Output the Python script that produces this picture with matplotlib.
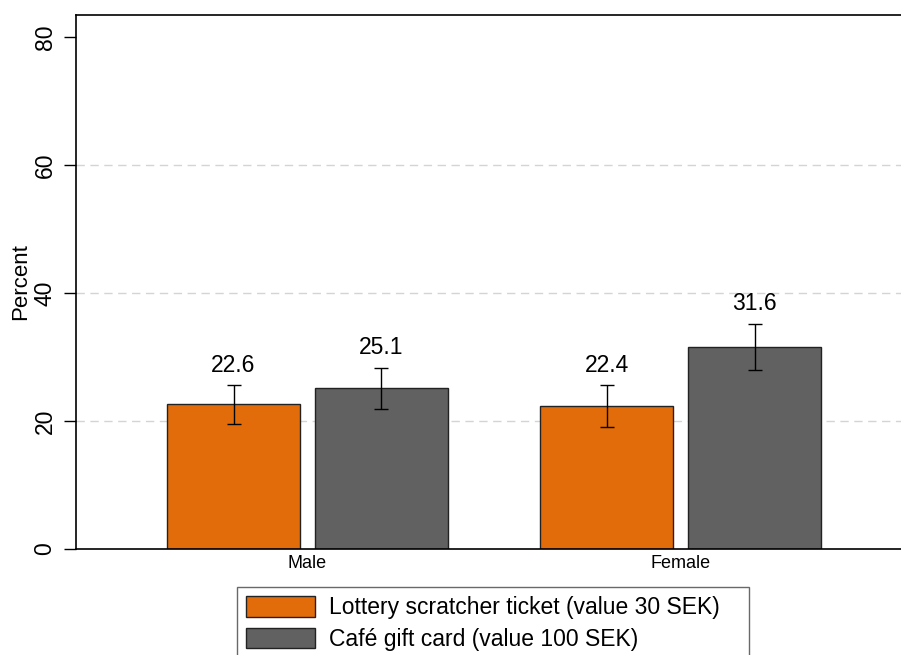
import numpy as np
import matplotlib
matplotlib.use("Agg")
from matplotlib import pyplot as plt

plt.rcParams['font.family'] = ['Liberation Sans', 'DejaVu Sans']

groups = ['Male', 'Female']
series = ['Lottery scratcher ticket (value 30 SEK)', 'Café gift card (value 100 SEK)']
lottery = [22.6, 22.4]
cafe = [25.1, 31.6]
lottery_lo = [19.5, 19.1]
lottery_hi = [25.6, 25.6]
cafe_lo = [21.8, 27.9]
cafe_hi = [28.3, 35.2]
yticks = [0, 20, 40, 60, 80]
gridlines = [20, 40, 60]

colors = ['#e36c0a', '#616161']

fig = plt.figure(figsize=(9.01, 6.55), dpi=100)
ax = fig.add_axes([76/901, 1 - 549/655, 1 - 76/901, (549 - 15)/655])

x = np.arange(len(groups))
w = 0.3566
off = 0.1983

for yy in gridlines:
    ax.axhline(yy, color='#d4d4d4', lw=1, ls=(0, (6, 4)), zorder=0)

vals = [lottery, cafe]
los = [lottery_lo, cafe_lo]
his = [lottery_hi, cafe_hi]
for i, (v, lo, hi) in enumerate(zip(vals, los, his)):
    pos = x + (i * 2 - 1) * off
    v = np.array(v)
    err = [v - np.array(lo), np.array(hi) - v]
    ax.bar(pos, v, w, color=colors[i], edgecolor='#222222', linewidth=1,
           label=series[i], zorder=2)
    ax.errorbar(pos, v, yerr=err, fmt='none', ecolor='black', elinewidth=1,
                capsize=5, capthick=1, zorder=3)
    for p, val, h in zip(pos, v, hi):
        ax.text(p, h + 1.3, f'{val:.1f}', ha='center', va='bottom', fontsize=16.5)

ax.set_xlim(-0.6206, 1.591)
ax.set_ylim(0, 83.4)
ax.set_xticks(x)
ax.set_xticklabels(groups, fontsize=13)
ax.tick_params(axis='x', length=0, pad=4)
ax.set_yticks(yticks)
ax.set_yticklabels([str(t) for t in yticks], rotation=90, va='center', fontsize=16.5)
ax.tick_params(axis='y', length=9, width=1, pad=5)
ax.set_ylabel('Percent', fontsize=16, labelpad=2)
ax.spines['right'].set_visible(False)
for s in ['left', 'top', 'bottom']:
    ax.spines[s].set_linewidth(1.2)

fig.legend(loc='upper left', bbox_to_anchor=(237/901, 1 - 587/655, 512/901, 0),
           mode='expand', fontsize=16.5, frameon=True, fancybox=False,
           edgecolor='#444444', handlelength=3.0, handleheight=1.0,
           labelspacing=0.38, borderpad=0.4, handletextpad=0.6, borderaxespad=0)

fig.savefig('out.png', dpi=100)
